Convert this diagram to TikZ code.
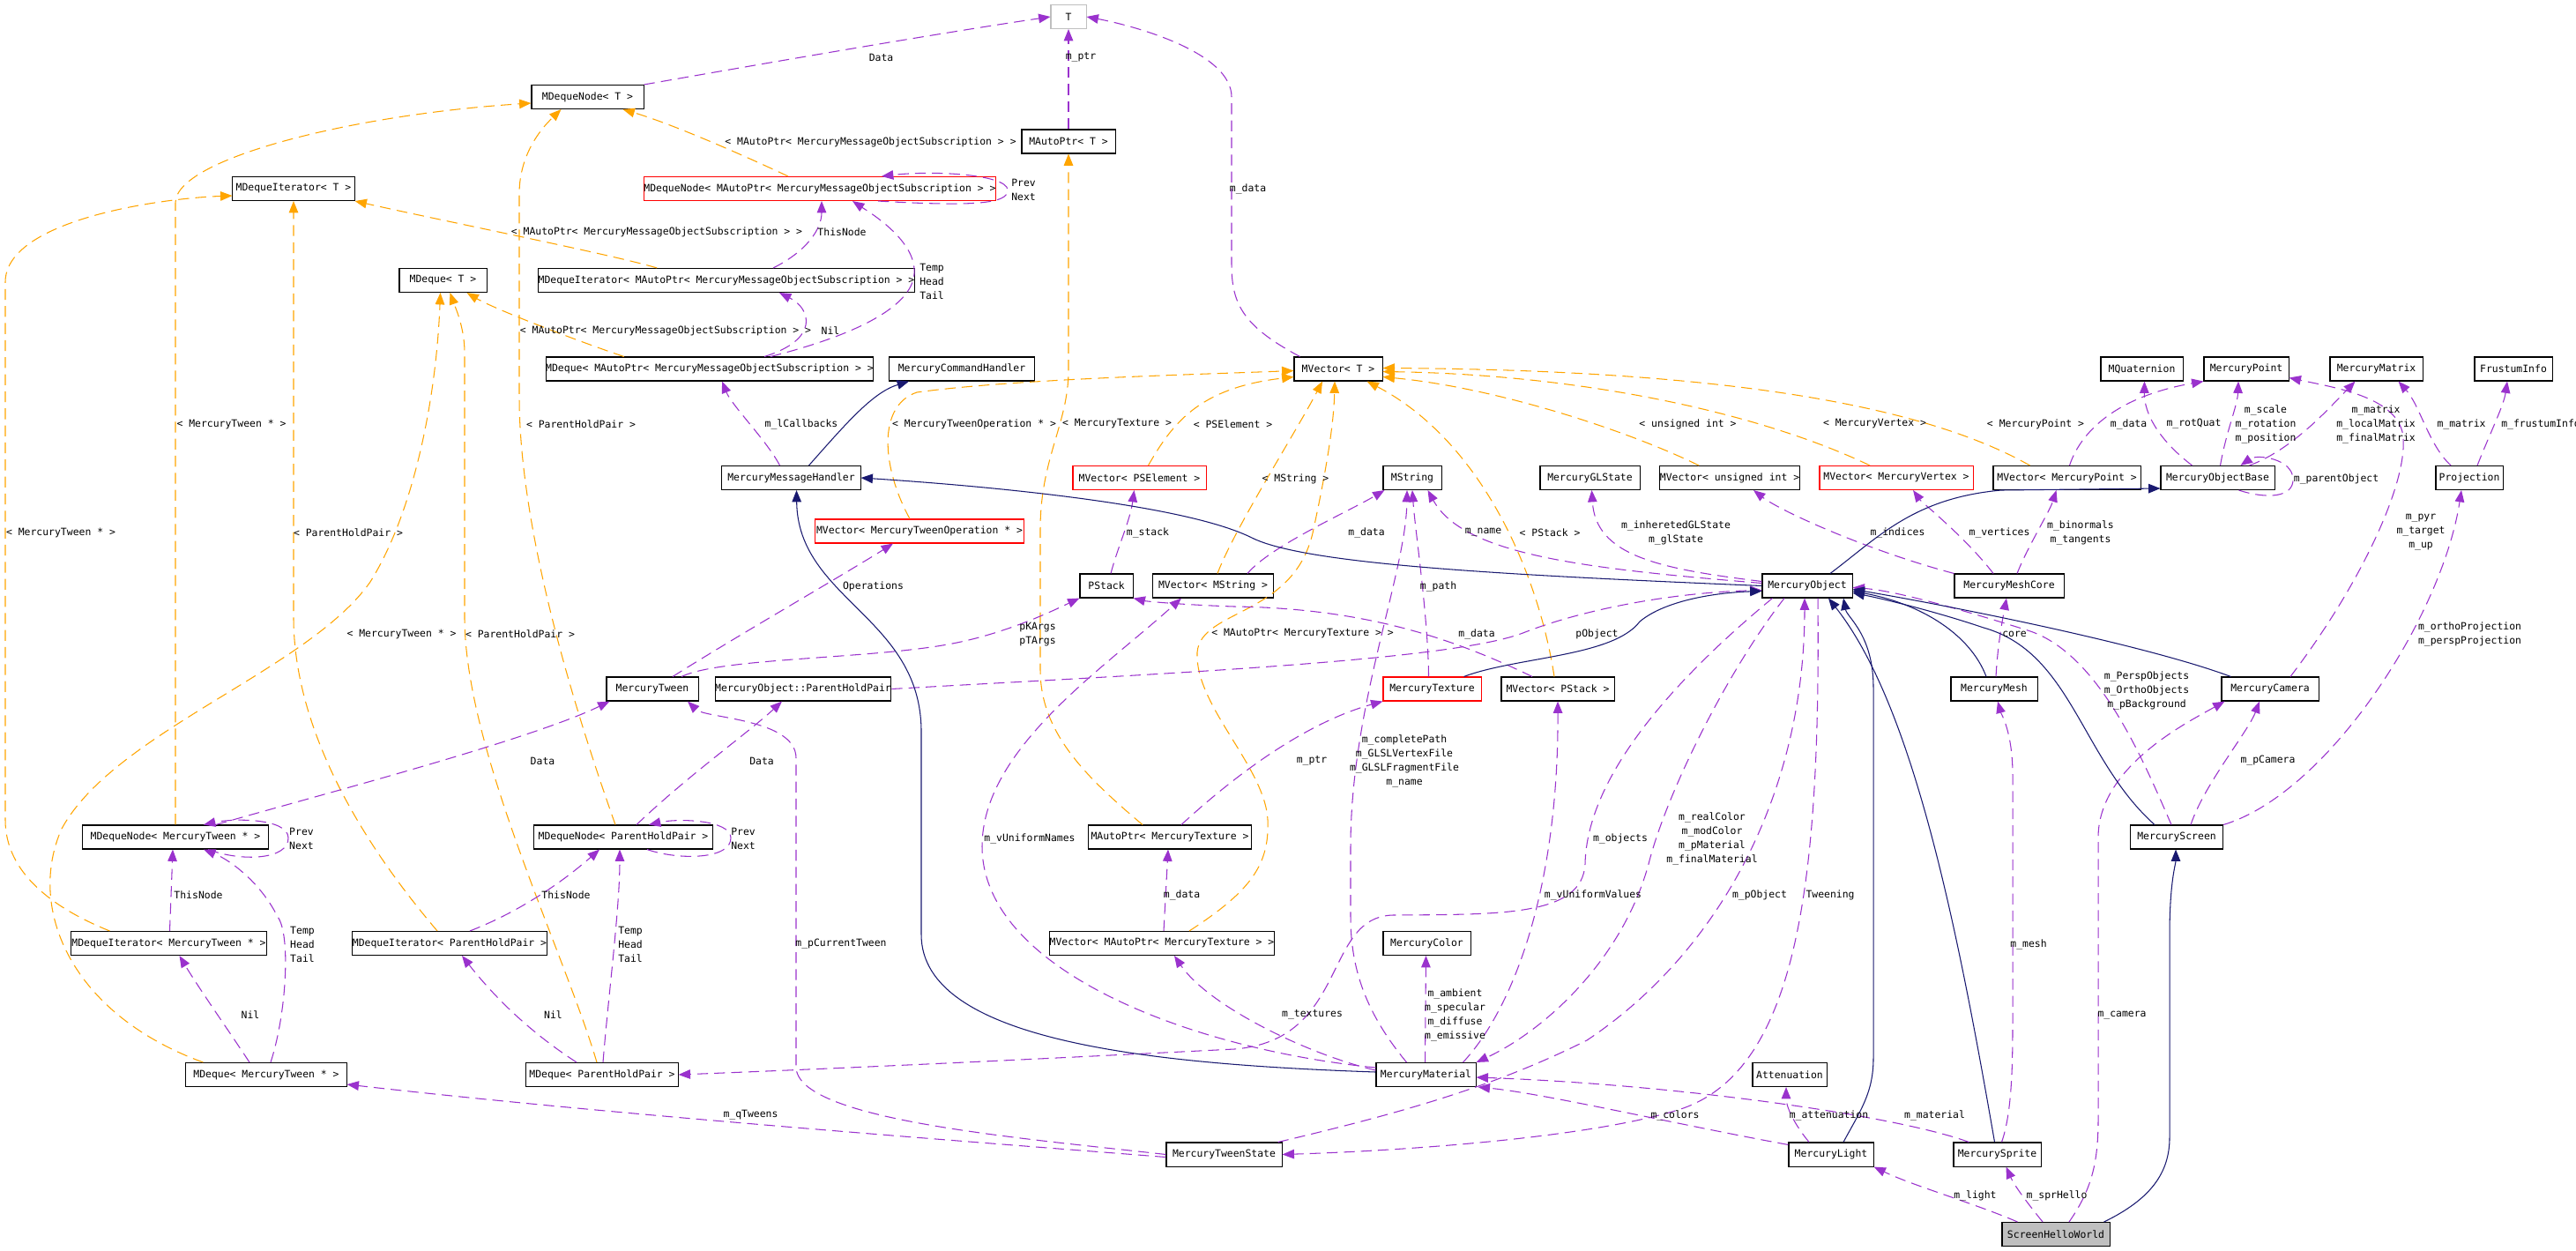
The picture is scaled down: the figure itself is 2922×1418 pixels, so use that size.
\documentclass[tikz,border=0pt]{standalone}
\usepackage{fontspec}
\setmonofont{DejaVu Sans Mono}
\usetikzlibrary{arrows.meta,calc}
\definecolor{usecol}{HTML}{9A32CD}
\definecolor{tplcol}{HTML}{FFA500}
\definecolor{inhcol}{HTML}{191970}
\definecolor{boxgray}{HTML}{BFBFBF}
\newcommand{\dxfont}{\ttfamily\fontsize{3.25}{4.55}\selectfont}
\tikzset{
    cls/.style={draw=black,line width=0.3pt,fill=white,inner sep=0pt,minimum height=0.27cm,font=\dxfont},
    tplcls/.style={cls,draw=red},
    extcls/.style={cls,draw=boxgray},
    focus/.style={cls,fill=boxgray},
    lbl/.style={inner sep=0pt,align=center,font=\dxfont},
    uses/.style={draw=usecol,line width=0.3pt,dash pattern=on 3.5pt off 2pt,-{Triangle[length=3.8pt,width=3pt]}},
    tmpl/.style={uses,draw=tplcol},
    inherit/.style={draw=inhcol,line width=0.3pt,-{Triangle[length=3.8pt,width=3pt]}},
}

\begin{document}
\begin{tikzpicture}[x=0.01cm,y=-0.01cm]
    \useasboundingbox (0,0) rectangle (2922,1418);
    \fill[white] (0,0) rectangle (2922,1418);

    % classes
    \node[extcls,minimum width=0.40cm] (nT) at (1212,19) {T};
    \node[cls,minimum width=1.27cm] (nDNT) at (666.5,110) {MDequeNode< T >};
    \node[cls,minimum width=1.06cm] (nAPT) at (1212,160.5) {MAutoPtr< T >};
    \node[cls,minimum width=1.38cm] (nDIT) at (333,214) {MDequeIterator< T >};
    \node[tplcls,minimum width=3.90cm] (nDNA) at (930,214) {MDequeNode< MAutoPtr< MercuryMessageObjectSubscription > >};
    \node[cls,minimum width=0.99cm] (nDQT) at (502.5,318) {MDeque< T >};
    \node[cls,minimum width=4.00cm] (nDIA) at (824,318) {MDequeIterator< MAutoPtr< MercuryMessageObjectSubscription > >};
    \node[cls,minimum width=3.62cm] (nDQA) at (805,418.5) {MDeque< MAutoPtr< MercuryMessageObjectSubscription > >};
    \node[cls,minimum width=1.65cm] (nMCH) at (1091,418.5) {MercuryCommandHandler};
    \node[cls,minimum width=1.00cm] (nVT) at (1518,418.5) {MVector< T >};
    \node[cls,minimum width=0.93cm] (nQuat) at (2429.5,418.5) {MQuaternion};
    \node[cls,minimum width=0.96cm] (nPoint) at (2548,418.5) {MercuryPoint};
    \node[cls,minimum width=1.05cm] (nMatrix) at (2695.5,418.5) {MercuryMatrix};
    \node[cls,minimum width=0.88cm] (nFrust) at (2851,418.5) {FrustumInfo};
    \node[cls,minimum width=1.57cm] (nMMH) at (897.5,542) {MercuryMessageHandler};
    \node[tplcls,minimum width=1.51cm] (nVPSE) at (1292.5,542) {MVector< PSElement >};
    \node[cls,minimum width=0.66cm] (nMStr) at (1602,542) {MString};
    \node[cls,minimum width=1.13cm] (nGLS) at (1803.5,542) {MercuryGLState};
    \node[cls,minimum width=1.58cm] (nVUI) at (1962,542) {MVector< unsigned int >};
    \node[tplcls,minimum width=1.74cm] (nVVtx) at (2151,542) {MVector< MercuryVertex >};
    \node[cls,minimum width=1.67cm] (nVPt) at (2344.5,542) {MVector< MercuryPoint >};
    \node[cls,minimum width=1.29cm] (nMOB) at (2515.5,542) {MercuryObjectBase};
    \node[cls,minimum width=0.76cm] (nProj) at (2801,542) {Projection};
    \node[tplcls,minimum width=2.36cm] (nVTO) at (1043,602.5) {MVector< MercuryTweenOperation * >};
    \node[cls,minimum width=0.60cm] (nPStack) at (1255,664.5) {PStack};
    \node[cls,minimum width=1.37cm] (nVStr) at (1376,664.5) {MVector< MString >};
    \node[cls,minimum width=1.02cm] (nMO) at (2050,664.5) {MercuryObject};
    \node[cls,minimum width=1.24cm] (nMMC) at (2279,664.5) {MercuryMeshCore};
    \node[cls,minimum width=1.04cm] (nTween) at (740,781.5) {MercuryTween};
    \node[cls,minimum width=1.92cm] (nPHP) at (911,781.5) {MercuryObject::ParentHoldPair};
    \node[tplcls,minimum width=1.11cm] (nTex) at (1624.5,781.5) {MercuryTexture};
    \node[cls,minimum width=1.28cm] (nVPS) at (1767,781.5) {MVector< PStack >};
    \node[cls,minimum width=0.98cm] (nMesh) at (2262,781.5) {MercuryMesh};
    \node[cls,minimum width=1.10cm] (nCam) at (2575,781.5) {MercuryCamera};
    \node[cls,minimum width=2.11cm] (nDNMT) at (199,949.5) {MDequeNode< MercuryTween * >};
    \node[cls,minimum width=2.02cm] (nDNP) at (707,949.5) {MDequeNode< ParentHoldPair >};
    \node[cls,minimum width=1.84cm] (nAPTex) at (1327,949.5) {MAutoPtr< MercuryTexture >};
    \node[cls,minimum width=1.05cm] (nScr) at (2469,949.5) {MercuryScreen};
    \node[cls,minimum width=2.21cm] (nDIMT) at (191.5,1070) {MDequeIterator< MercuryTween * >};
    \node[cls,minimum width=2.11cm] (nDIP) at (510,1070) {MDequeIterator< ParentHoldPair >};
    \node[cls,minimum width=2.55cm] (nVAPT) at (1318,1070) {MVector< MAutoPtr< MercuryTexture > >};
    \node[cls,minimum width=0.99cm] (nColor) at (1618.5,1070) {MercuryColor};
    \node[cls,minimum width=1.82cm] (nDQMT) at (302,1219) {MDeque< MercuryTween * >};
    \node[cls,minimum width=1.72cm] (nDQP) at (683,1219) {MDeque< ParentHoldPair >};
    \node[cls,minimum width=1.13cm] (nMat) at (1617.5,1219) {MercuryMaterial};
    \node[cls,minimum width=0.84cm] (nAtt) at (2030,1219) {Attenuation};
    \node[cls,minimum width=1.31cm] (nTS) at (1388.5,1309.5) {MercuryTweenState};
    \node[cls,minimum width=0.96cm] (nLight) at (2077,1309.5) {MercuryLight};
    \node[cls,minimum width=0.99cm] (nSprite) at (2265.5,1309.5) {MercurySprite};
    \node[focus,minimum width=1.22cm] (nSHW) at (2332,1400) {ScreenHelloWorld};

    % template instances
    \draw[tmpl] ($(nDNA.north)+(-36,0)$) .. controls (830,170) and (760,140) .. ($(nDNT.south)+(40,0)$);
    \draw[tmpl] ($(nDIA.north west)+(135,0)$) .. controls (700,290) and (500,250) .. (nDIT.south east);
    \draw[tmpl] ($(nDQA.north west)+(89,0)$) .. controls (650,385) and (560,350) .. ($(nDQT.south east)+(-23,0)$);
    \draw[tmpl] (nDNMT.north) -- (199,230) .. controls (199,180) and (400,130) .. ($(nDNT.west)+(0,7)$);
    \draw[tmpl] ($(nDIMT.north west)+(44,0)$) .. controls (60,1030) and (6,990) .. (6,930) -- (6,320) .. controls (6,250) and (180,225) .. ($(nDIT.west)+(0,8)$);
    \draw[tmpl] ($(nDQMT.north west)+(20,0)$) .. controls (80,1150) and (30,1030) .. (70,940) .. controls (130,830) and (350,760) .. (420,660) .. controls (470,580) and (495,450) .. ($(nDQT.south)+(-3,0)$);
    \draw[tmpl] ($(nDNP.north)+(-9,0)$) .. controls (650,800) and (589,600) .. (589,450) -- (589,220) .. controls (589,170) and (620,140) .. ($(nDNT.south)+(-30,0)$);
    \draw[tmpl] ($(nDIP.north)+(-14,0)$) .. controls (440,990) and (333,850) .. (333,700) -- (nDIT.south);
    \draw[tmpl] ($(nDQP.north)+(-6,0)$) .. controls (640,1080) and (527,850) .. (527,700) -- (527,400) .. controls (527,370) and (515,345) .. ($(nDQT.south)+(8,0)$);
    \draw[tmpl] ($(nAPTex.north)+(-31,0)$) .. controls (1230,880) and (1180,830) .. (1180,760) -- (1180,600) .. controls (1180,520) and (1212,480) .. (1212,420) -- (nAPT.south);
    \draw[tmpl] ($(nVTO.north)+(-11,0)$) .. controls (1000,530) and (995,460) .. (1040,445) .. controls (1150,430) and (1350,425) .. ($(nVT.west)+(0,2)$);
    \draw[tmpl] ($(nVPSE.north)+(10,0)$) .. controls (1330,480) and (1360,440) .. ($(nVT.west)+(0,9)$);
    \draw[tmpl] ($(nVStr.north)+(5,0)$) .. controls (1400,600) and (1470,490) .. ($(nVT.south)+(-18,0)$);
    \draw[tmpl] ($(nVAPT.north)+(31,0)$) .. controls (1420,1010) and (1440,980) .. (1438,930) .. controls (1435,870) and (1355,800) .. (1358,740) .. controls (1362,690) and (1470,700) .. (1490,600) .. controls (1505,530) and (1513,480) .. ($(nVT.south)+(-4,0)$);
    \draw[tmpl] ($(nVPS.north)+(-4,0)$) .. controls (1745,650) and (1680,500) .. ($(nVT.south east)+(-18,0)$);
    \draw[tmpl] ($(nVUI.north)+(-35,0)$) .. controls (1850,490) and (1700,440) .. ($(nVT.east)+(0,9)$);
    \draw[tmpl] ($(nVVtx.north)+(-30,0)$) .. controls (2000,470) and (1800,425) .. ($(nVT.east)+(0,3)$);
    \draw[tmpl] ($(nVPt.north)+(-42,0)$) .. controls (2200,470) and (2000,420) .. ($(nVT.east)+(0,-1)$);

    % usage
    \draw[uses] (nDNT.north east) .. controls (850,75) and (1050,40) .. (nT.west);
    \draw[uses] (nAPT.north) -- (nT.south);
    \draw[uses] ($(nVT.north west)+(7,0)$) .. controls (1410,370) and (1397,345) .. (1397,300) -- (1397,110) .. controls (1397,60) and (1290,30) .. (nT.east);
    \draw[uses] ($(nDNA.south)+(66,0)$) .. controls (1100,234) and (1145,232) .. (1143,215) .. controls (1141,198) and (1060,193) .. ($(nDNA.north)+(70,0)$);
    \draw[uses] ($(nDIA.north)+(53,0)$) .. controls (915,285) and (932,260) .. ($(nDNA.south)+(2,0)$);
    \draw[uses] ($(nDQA.north)+(69,0)$) .. controls (990,375) and (1040,340) .. (1037,305) .. controls (1035,270) and (985,240) .. ($(nDNA.south)+(37,0)$);
    \draw[uses] ($(nDQA.north)+(62,0)$) .. controls (930,385) and (920,350) .. ($(nDIA.south)+(60,0)$);
    \draw[uses] ($(nMMH.north)+(-13,0)$) .. controls (870,500) and (830,460) .. ($(nDQA.south)+(14,0)$);
    \draw[uses] ($(nDNMT.south)+(37,0)$) .. controls (275,978) and (328,975) .. (327,950) .. controls (326,928) and (265,928) .. ($(nDNMT.north)+(32,0)$);
    \draw[uses] ($(nDIMT.north)+(1,0)$) -- ($(nDNMT.south)+(-3,0)$);
    \draw[uses] ($(nDQMT.north)+(5,0)$) .. controls (325,1150) and (330,1060) .. (315,1040) .. controls (295,1000) and (260,975) .. ($(nDNMT.south)+(32,0)$);
    \draw[uses] ($(nDQMT.north)+(-19,0)$) .. controls (260,1170) and (225,1120) .. ($(nDIMT.south)+(12,0)$);
    \draw[uses] ($(nDNMT.north)+(46,0)$) .. controls (350,905) and (600,840) .. ($(nTween.south west)+(4,0)$);
    \draw[uses] ($(nDNP.south)+(27,0)$) .. controls (770,976) and (830,975) .. (829,950) .. controls (828,930) and (770,928) .. ($(nDNP.north)+(29,0)$);
    \draw[uses] ($(nDIP.north)+(23,0)$) .. controls (600,1030) and (650,990) .. ($(nDNP.south)+(-27,0)$);
    \draw[uses] ($(nDQP.north)+(1,0)$) .. controls (690,1130) and (703,1030) .. ($(nDNP.south)+(-4,0)$);
    \draw[uses] ($(nDQP.north)+(-29,0)$) .. controls (600,1170) and (560,1130) .. ($(nDIP.south)+(14,0)$);
    \draw[uses] ($(nDNP.north)+(15,0)$) .. controls (780,880) and (850,830) .. ($(nPHP.south)+(-24,0)$);
    \draw[uses] ($(nTween.north)+(23,0)$) .. controls (830,725) and (960,650) .. ($(nVTO.south)+(-30,0)$);
    \draw[uses] ($(nTween.north)+(33,0)$) .. controls (820,745) and (1000,748) .. (1090,728) .. controls (1150,715) and (1200,690) .. (nPStack.south west);
    \draw[uses] (nPHP.east) .. controls (1300,765) and (1650,750) .. (1730,717) .. controls (1800,690) and (1900,672) .. ($(nMO.west)+(0,5)$);
    \draw[uses] (nTS.west) .. controls (1150,1290) and (903,1270) .. (903,1210) -- (903,860) .. controls (903,815) and (800,815) .. ($(nTween.south)+(40,0)$);
    \draw[uses] ($(nTS.west)+(0,3)$) .. controls (1100,1295) and (700,1265) .. ($(nDQMT.east)+(0,11)$);
    \draw[uses] ($(nMO.south)+(12,0)$) .. controls (2065,1000) and (2040,1220) .. (1900,1260) .. controls (1800,1290) and (1600,1305) .. (nTS.east);
    \draw[uses] ($(nTS.north east)+(-5,0)$) .. controls (1600,1260) and (1700,1230) .. (1800,1180) .. controls (1950,1080) and (2047,900) .. ($(nMO.south)+(-3,0)$);
    \draw[uses] ($(nMO.south)+(-26,0)$) .. controls (1960,760) and (1890,900) .. (1870,980) .. controls (1840,1090) and (1750,1170) .. (nMat.north east);
    \draw[uses] ($(nMO.south west)+(12,0)$) .. controls (1900,770) and (1800,880) .. (1798,980) .. controls (1795,1040) and (1700,1037) .. (1580,1038) .. controls (1500,1040) and (1530,1180) .. (1400,1190) .. controls (1200,1200) and (1000,1210) .. (nDQP.east);
    \draw[uses] ($(nMat.north)+(42,0)$) .. controls (1720,1140) and (1768,1000) .. (nVPS.south);
    \draw[uses] ($(nMat.north)+(-22,0)$) .. controls (1550,1150) and (1532,1100) .. (1532,1040) -- (1532,960) .. controls (1532,800) and (1595,650) .. ($(nMStr.south)+(-6,0)$);
    \draw[uses] ($(nTex.north)+(-4,0)$) .. controls (1620,700) and (1605,600) .. (nMStr.south);
    \draw[uses] ($(nVStr.north east)+(-30,0)$) .. controls (1440,620) and (1530,580) .. ($(nMStr.south west)+(2,0)$);
    \draw[uses] ($(nMO.west)+(0,-3)$) .. controls (1800,645) and (1660,630) .. ($(nMStr.south east)+(-16,0)$);
    \draw[uses] ($(nMO.west)+(0,-5)$) .. controls (1880,645) and (1810,630) .. ($(nGLS.south)+(2,0)$);
    \draw[uses] (nMMC.north west) .. controls (2120,625) and (2020,580) .. ($(nVUI.south)+(27,0)$);
    \draw[uses] ($(nMMC.north)+(-18,0)$) .. controls (2230,610) and (2180,570) .. ($(nVVtx.south)+(19,0)$);
    \draw[uses] ($(nMMC.north)+(9,0)$) .. controls (2300,620) and (2325,580) .. ($(nVPt.south)+(-12,0)$);
    \draw[uses] ($(nVPt.north)+(3,0)$) .. controls (2360,490) and (2400,450) .. (nPoint.south west);
    \draw[uses] ($(nMOB.north)+(-29,0)$) .. controls (2450,500) and (2432,470) .. ($(nQuat.south)+(3,0)$);
    \draw[uses] ($(nMOB.north)+(3,0)$) .. controls (2525,490) and (2538,460) .. ($(nPoint.south)+(-9,0)$);
    \draw[uses] ($(nMOB.north)+(36,0)$) .. controls (2600,510) and (2640,465) .. ($(nMatrix.south)+(-24,0)$);
    \draw[uses] ($(nMOB.south)+(24,0)$) .. controls (2570,566) and (2602,565) .. (2601,543) .. controls (2600,520) and (2560,515) .. ($(nMOB.north)+(26,0)$);
    \draw[uses] ($(nCam.north)+(23,0)$) .. controls (2680,660) and (2735,540) .. (2725,490) .. controls (2715,450) and (2650,440) .. ($(nPoint.east)+(0,10)$);
    \draw[uses] ($(nProj.north)+(-21,0)$) .. controls (2755,505) and (2745,460) .. ($(nMatrix.south)+(25,0)$);
    \draw[uses] ($(nProj.north)+(9,0)$) .. controls (2825,490) and (2840,460) .. ($(nFrust.south)+(-7,0)$);
    \draw[uses] (nScr.north east) .. controls (2640,900) and (2770,700) .. ($(nProj.south)+(-9,0)$);
    \draw[uses] ($(nScr.north)+(16,0)$) .. controls (2500,890) and (2550,830) .. ($(nCam.south)+(-12,0)$);
    \draw[uses] ($(nScr.north)+(-6,0)$) .. controls (2430,860) and (2380,740) .. (2300,715) .. controls (2220,690) and (2150,670) .. ($(nMO.east)+(0,2)$);
    \draw[uses] ($(nSHW.north)+(15,0)$) .. controls (2372,1350) and (2380,1320) .. (2380,1270) -- (2380,950) .. controls (2380,870) and (2480,820) .. ($(nCam.south west)+(4,0)$);
    \draw[uses] ($(nSHW.north)+(-15,0)$) .. controls (2300,1365) and (2285,1345) .. ($(nSprite.south)+(10,0)$);
    \draw[uses] ($(nSHW.north west)+(18,0)$) .. controls (2240,1365) and (2170,1345) .. (nLight.south east);
    \draw[uses] ($(nSprite.north)+(5,0)$) .. controls (2283,1260) and (2283,1200) .. (2283,1150) -- (2283,880) .. controls (2283,830) and (2270,810) .. ($(nMesh.south)+(4,0)$);
    \draw[uses] ($(nSprite.north west)+(18,0)$) .. controls (2150,1265) and (1900,1230) .. ($(nMat.east)+(0,3)$);
    \draw[uses] ($(nLight.north west)+(0,3)$) .. controls (1900,1275) and (1750,1240) .. ($(nMat.south east)+(2,0)$);
    \draw[uses] ($(nLight.north)+(-25,0)$) .. controls (2035,1275) and (2026,1255) .. ($(nAtt.south)+(-4,0)$);
    \draw[uses] ($(nMat.north)+(-1,0)$) -- ($(nColor.south)+(-1,0)$);
    \draw[uses] ($(nMat.west)+(0,-5)$) .. controls (1480,1195) and (1370,1140) .. ($(nVAPT.south)+(14,0)$);
    \draw[uses] ($(nMat.west)+(0,-8)$) .. controls (1350,1190) and (1114,1100) .. (1114,960) .. controls (1114,850) and (1250,760) .. ($(nVStr.south)+(-36,0)$);
    \draw[uses] ($(nVAPT.north)+(2,0)$) -- ($(nAPTex.south)+(-2,0)$);
    \draw[uses] ($(nAPTex.north)+(13,0)$) .. controls (1400,880) and (1480,820) .. (nTex.south west);
    \draw[uses] ($(nVPS.north)+(-29,0)$) .. controls (1650,725) and (1550,690) .. (1400,688) .. controls (1340,686) and (1300,682) .. (nPStack.south east);
    \draw[uses] ($(nPStack.north)+(5,0)$) .. controls (1268,620) and (1282,590) .. ($(nVPSE.south)+(-6,0)$);
    \draw[uses] ($(nMesh.north)+(2,0)$) .. controls (2266,730) and (2272,700) .. ($(nMMC.south)+(-3,0)$);

    % inheritance
    \draw[inherit] ($(nMMH.north)+(20,0)$) .. controls (960,480) and (990,445) .. ($(nMCH.south)+(-60,0)$);
    \draw[inherit] (nMO.west) .. controls (1700,652) and (1480,640) .. (1420,610) .. controls (1340,570) and (1100,550) .. (nMMH.east);
    \draw[inherit] ($(nMO.north)+(26,0)$) .. controls (2130,610) and (2170,565) .. (2270,556) -- ($(nMOB.west)+(0,12)$);
    \draw[inherit] ($(nMat.west)+(0,-3)$) .. controls (1300,1207) and (1045,1180) .. (1045,1060) -- (1045,830) .. controls (1045,700) and (905,680) .. ($(nMMH.south)+(6,0)$);
    \draw[inherit] ($(nTex.north)+(36,0)$) .. controls (1720,745) and (1830,745) .. (1860,705) .. controls (1890,680) and (1950,672) .. ($(nMO.west)+(0,6)$);
    \draw[inherit] ($(nMesh.north)+(-9,0)$) .. controls (2235,720) and (2180,685) .. ($(nMO.east)+(0,6)$);
    \draw[inherit] ($(nCam.north west)+(11,0)$) .. controls (2430,730) and (2200,685) .. ($(nMO.east)+(0,4)$);
    \draw[inherit] ($(nScr.north west)+(28,0)$) .. controls (2360,860) and (2350,740) .. (2250,712) .. controls (2200,695) and (2140,680) .. ($(nMO.east)+(0,8)$);
    \draw[inherit] ($(nLight.north)+(14,0)$) .. controls (2110,1260) and (2125,1240) .. (2125,1200) -- (2125,780) .. controls (2125,720) and (2095,700) .. ($(nMO.south)+(41,0)$);
    \draw[inherit] ($(nSprite.north)+(-3,0)$) .. controls (2220,1050) and (2170,800) .. ($(nMO.south)+(24,0)$);
    \draw[inherit] ($(nSHW.north east)+(-7,0)$) .. controls (2440,1360) and (2461,1330) .. (2461,1290) -- (2461,1060) .. controls (2461,1000) and (2468,980) .. ($(nScr.south)+(-1,0)$);

    % labels
    \node[lbl] (lData1) at (999.5,65) {Data};
    \node[lbl] (lPtr1) at (1226,65) {m\_ptr};
    \node[lbl] (lTplDNA) at (987.5,161) {< MAutoPtr< MercuryMessageObjectSubscription > >};
    \node[lbl] (lPrevA) at (1161,215) {Prev\\Next};
    \node[lbl] (lDataVT) at (1415.5,215) {m\_data};
    \node[lbl] (lTplDIA) at (745,263) {< MAutoPtr< MercuryMessageObjectSubscription > >};
    \node[lbl] (lThisA) at (955,263) {ThisNode};
    \node[lbl] (lTempA) at (1057,319) {Temp\\Head\\Tail};
    \node[lbl] (lTplDQA) at (755,375) {< MAutoPtr< MercuryMessageObjectSubscription > >};
    \node[lbl] (lNilA) at (942,375) {Nil};
    \node[lbl] (lCallbacks) at (909,481) {m\_lCallbacks};
    \node[lbl] (lTplDNMT) at (262.5,481) {< MercuryTween * >};
    \node[lbl] (lTplDNP) at (659,481) {< ParentHoldPair >};
    \node[lbl] (lTplVTO) at (1105,481) {< MercuryTweenOperation * >};
    \node[lbl] (lTplAPTex) at (1267,481) {< MercuryTexture >};
    \node[lbl] (lTplVPSE) at (1398.5,481) {< PSElement >};
    \node[lbl] (lTplVUI) at (1914.5,481) {< unsigned int >};
    \node[lbl] (lTplVVtx) at (2126.5,481) {< MercuryVertex >};
    \node[lbl] (lTplVPt) at (2309,481) {< MercuryPoint >};
    \node[lbl] (lDataPt) at (2414.5,481) {m\_data};
    \node[lbl] (lRotQuat) at (2488.5,481) {m\_rotQuat};
    \node[lbl] (lScale) at (2570,481) {m\_scale\\m\_rotation\\m\_position};
    \node[lbl] (lMatrix3) at (2695,481) {m\_matrix\\m\_localMatrix\\m\_finalMatrix};
    \node[lbl] (lMatrix1) at (2792,481) {m\_matrix};
    \node[lbl] (lFrustum) at (2882,481) {m\_frustumInfo};
    \node[lbl] (lTplVStr) at (1469.5,543) {< MString >};
    \node[lbl] (lParent) at (2650,543) {m\_parentObject};
    \node[lbl] (lTplDIMT) at (69,604) {< MercuryTween * >};
    \node[lbl] (lTplDIP) at (395,604) {< ParentHoldPair >};
    \node[lbl] (lStack) at (1302,604) {m\_stack};
    \node[lbl] (lDataStr) at (1550,604) {m\_data};
    \node[lbl] (lName) at (1682.5,604) {m\_name};
    \node[lbl] (lTplVPS) at (1758,604) {< PStack >};
    \node[lbl] (lGLState) at (1901,604) {m\_inheretedGLState\\m\_glState};
    \node[lbl] (lIndices) at (2152.5,604) {m\_indices};
    \node[lbl] (lVertices) at (2268,604) {m\_vertices};
    \node[lbl] (lBinormals) at (2360,604) {m\_binormals\\m\_tangents};
    \node[lbl] (lPyr) at (2746,604) {m\_pyr\\m\_target\\m\_up};
    \node[lbl] (lOperations) at (990.5,665) {Operations};
    \node[lbl] (lPath) at (1631.5,665) {m\_path};
    \node[lbl] (lTplDQMT) at (455.5,719) {< MercuryTween * >};
    \node[lbl] (lTplDQP) at (590,719) {< ParentHoldPair >};
    \node[lbl] (lArgs) at (1177,719.5) {pKArgs\\pTArgs};
    \node[lbl] (lTplVAPT) at (1477.5,719) {< MAutoPtr< MercuryTexture > >};
    \node[lbl] (lDataPS) at (1675,719) {m\_data};
    \node[lbl] (lPObject) at (1811.5,719) {pObject};
    \node[lbl] (lCore) at (2285,719) {core};
    \node[lbl] (lProjection) at (2801.5,719) {m\_orthoProjection\\m\_perspProjection};
    \node[lbl] (lPersp) at (2435,783) {m\_PerspObjects\\m\_OrthoObjects\\m\_pBackground};
    \node[lbl] (lDataMT) at (615.5,863) {Data};
    \node[lbl] (lDataP) at (864,863) {Data};
    \node[lbl] (lPtrTex) at (1488,863) {m\_ptr};
    \node[lbl] (lShader) at (1593,863) {m\_completePath\\m\_GLSLVertexFile\\m\_GLSLFragmentFile\\m\_name};
    \node[lbl] (lPCamera) at (2572.5,863) {m\_pCamera};
    \node[lbl] (lPrevMT) at (342,951) {Prev\\Next};
    \node[lbl] (lPrevP) at (843,951) {Prev\\Next};
    \node[lbl] (lUniNames) at (1168,951) {m\_vUniformNames};
    \node[lbl] (lObjects) at (1838,951) {m\_objects};
    \node[lbl] (lColors4) at (1942,951) {m\_realColor\\m\_modColor\\m\_pMaterial\\m\_finalMaterial};
    \node[lbl] (lThisMT) at (225,1015) {ThisNode};
    \node[lbl] (lThisP) at (642,1015) {ThisNode};
    \node[lbl] (lDataAPT) at (1340.5,1015) {m\_data};
    \node[lbl] (lUniValues) at (1807,1015) {m\_vUniformValues};
    \node[lbl] (lPObj2) at (1996,1015) {m\_pObject};
    \node[lbl] (lTweening) at (2076,1015) {Tweening};
    \node[lbl] (lTempMT) at (343,1071) {Temp\\Head\\Tail};
    \node[lbl] (lTempP) at (715,1071) {Temp\\Head\\Tail};
    \node[lbl] (lCurTween) at (954,1071) {m\_pCurrentTween};
    \node[lbl] (lMesh) at (2301,1071) {m\_mesh};
    \node[lbl] (lNilMT) at (284,1151) {Nil};
    \node[lbl] (lNilP) at (627.5,1151) {Nil};
    \node[lbl] (lTextures) at (1488.5,1151) {m\_textures};
    \node[lbl] (lAmbient) at (1650.5,1151) {m\_ambient\\m\_specular\\m\_diffuse\\m\_emissive};
    \node[lbl] (lCamera) at (2407,1152) {m\_camera};
    \node[lbl] (lQTweens) at (851.5,1265) {m\_qTweens};
    \node[lbl] (lColors) at (1900,1265) {m\_colors};
    \node[lbl] (lAtten) at (2074.5,1265) {m\_attenuation};
    \node[lbl] (lMaterial) at (2194.5,1265) {m\_material};
    \node[lbl] (lLight) at (2240.5,1356) {m\_light};
    \node[lbl] (lSprHello) at (2333,1356) {m\_sprHello};
\end{tikzpicture}
\end{document}
